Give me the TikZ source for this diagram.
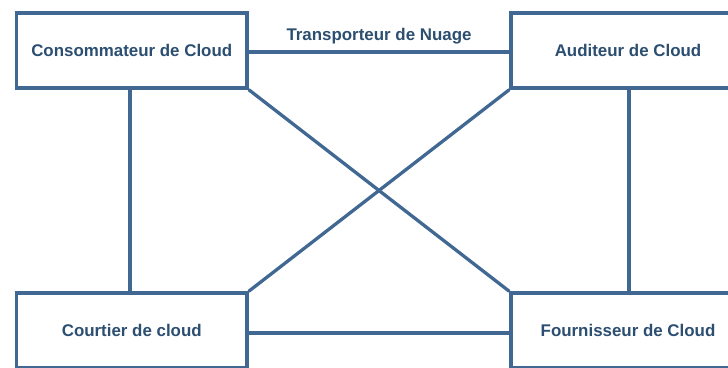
\documentclass[tikz,border=0pt]{standalone}
\usepackage{fontspec}
\setmainfont{Liberation Sans}
\definecolor{edgeblue}{RGB}{64,104,146}
\definecolor{textblue}{RGB}{44,78,112}
\begin{document}
\begin{tikzpicture}[x=1pt,y=-1pt,
  actor/.style={draw=edgeblue, line width=3.3pt, fill=white, rectangle,
    minimum height=75pt, inner sep=0pt, text depth=0pt,
    font=\fontsize{16.9}{19}\selectfont\bfseries, text=textblue},
  link/.style={draw=edgeblue, line width=3.3pt},
  linklabel/.style={font=\fontsize{16.9}{19}\selectfont\bfseries, text=textblue}]
  \useasboundingbox (0,0) rectangle (728,367);
  \clip (0,0) rectangle (728,367);
  % the four roles
  \node[actor, minimum width=230.5pt] (cons) at (131.75,50.5) {Consommateur de Cloud};
  \node[actor, minimum width=234pt]   (audit) at (628,50.5) {Auditeur de Cloud};
  \node[actor, minimum width=230.5pt] (broker) at (131.75,330.5) {Courtier de cloud};
  \node[actor, minimum width=234pt]   (prov) at (628,330.5) {Fournisseur de Cloud};
  % links between roles
  \draw[link] ([yshift=-1.5pt]cons.east) -- node[linklabel, above=3pt] {Transporteur de Nuage} ([yshift=-1.5pt]audit.west);
  \draw[link] ([yshift=-2.5pt]broker.east) -- ([yshift=-2.5pt]prov.west);
  \draw[link] ([xshift=-1.75pt]cons.south) -- ([xshift=-1.75pt]broker.north);
  \draw[link] ([xshift=1pt]audit.south) -- ([xshift=1pt]prov.north);
  \draw[link] (cons.south east) -- (prov.north west);
  \draw[link] (audit.south west) -- (broker.north east);
\end{tikzpicture}
\end{document}
